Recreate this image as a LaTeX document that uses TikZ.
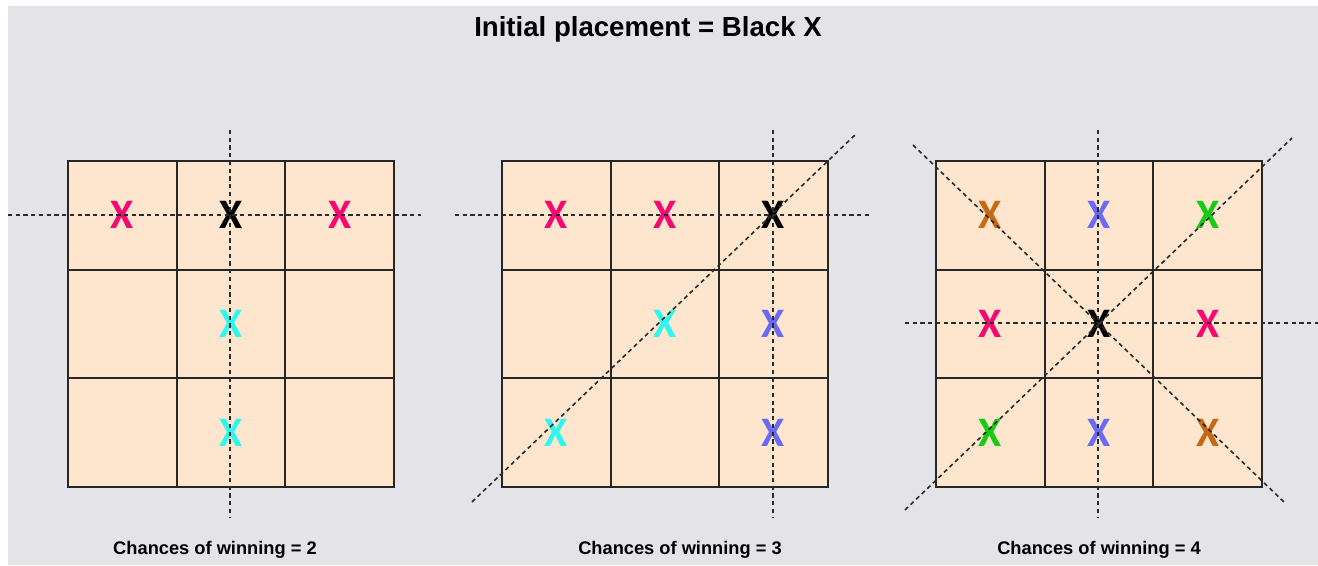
\documentclass[tikz,border=0pt]{standalone}
\usepackage{fontspec}
\newfontfamily\xfont{Carlito}
\newfontfamily\labfont{Liberation Sans}
\definecolor{bgc}{HTML}{E3E3E8}
\definecolor{cellc}{HTML}{FDE5CE}
\definecolor{pinkx}{HTML}{F5086F}
\definecolor{cyanx}{HTML}{2EF8EE}
\definecolor{bluex}{HTML}{6A6AF6}
\definecolor{orangex}{HTML}{C96812}
\definecolor{greenx}{HTML}{14CC14}
\definecolor{dashc}{HTML}{2A2A2A}
\tikzset{
  xmark/.style={inner sep=0pt, font=\xfont\bfseries\fontsize{31.5}{32}\selectfont},
  gridline/.style={draw=black!85, line width=1.4pt},
  guide/.style={draw=dashc, line width=1.2pt, dash pattern=on 3.2pt off 2.6pt},
  caption/.style={inner sep=0pt, font=\labfont\bfseries\fontsize{13.7}{15}\selectfont},
  titletext/.style={inner sep=0pt, font=\labfont\bfseries\fontsize{20.7}{22}\selectfont}
}
\begin{document}
\begin{tikzpicture}[x=0.75pt,y=-0.75pt]
\useasboundingbox (0,0) rectangle (1318,565);
\fill[white] (0,0) rectangle (1318,565);
\fill[bgc] (8,6) rectangle (1318,565);

\node[titletext] (title) at (648,29) {Initial placement = Black X};

% boards
\foreach \gx in {68,502,936}{
  \fill[cellc] (\gx,161) rectangle ++(326,326);
  \draw[gridline] (\gx,161) rectangle ++(326,326);
  \draw[gridline] (\gx+108.7,161) -- ++(0,326);
  \draw[gridline] (\gx+217.3,161) -- ++(0,326);
  \draw[gridline] (\gx,269.7) -- ++(326,0);
  \draw[gridline] (\gx,378.3) -- ++(326,0);
}

% board 1
\node[xmark, text=pinkx] (a11) at (122,215) {X};
\node[xmark, text=black] (a12) at (231,215) {X};
\node[xmark, text=pinkx] (a13) at (340,215) {X};
\node[xmark, text=cyanx] (a22) at (231,324) {X};
\node[xmark, text=cyanx] (a32) at (231,433) {X};

% board 2
\node[xmark, text=pinkx] (b11) at (556,215) {X};
\node[xmark, text=pinkx] (b12) at (665,215) {X};
\node[xmark, text=black] (b13) at (773,215) {X};
\node[xmark, text=cyanx] (b22) at (665,324) {X};
\node[xmark, text=bluex] (b23) at (773,324) {X};
\node[xmark, text=cyanx] (b31) at (556,433) {X};
\node[xmark, text=bluex] (b33) at (773,433) {X};

% board 3
\node[xmark, text=orangex] (c11) at (990,215) {X};
\node[xmark, text=bluex] (c12) at (1099,215) {X};
\node[xmark, text=greenx] (c13) at (1208,215) {X};
\node[xmark, text=pinkx] (c21) at (990,324) {X};
\node[xmark, text=black] (c22) at (1099,324) {X};
\node[xmark, text=pinkx] (c23) at (1208,324) {X};
\node[xmark, text=greenx] (c31) at (990,433) {X};
\node[xmark, text=bluex] (c32) at (1099,433) {X};
\node[xmark, text=orangex] (c33) at (1208,433) {X};

% guide line ends
\coordinate (a1h1) at (8,215);   \coordinate (a1h2) at (421,215);
\coordinate (a1v1) at (230,130); \coordinate (a1v2) at (230,517);
\coordinate (b1h1) at (455,215); \coordinate (b1h2) at (870,215);
\coordinate (b1v1) at (773,130); \coordinate (b1v2) at (773,517);
\coordinate (b1d1) at (472,502); \coordinate (b1d2) at (857,133);
\coordinate (c1h1) at (905,323); \coordinate (c1h2) at (1318,323);
\coordinate (c1v1) at (1098,130); \coordinate (c1v2) at (1098,517);
\coordinate (c1d1) at (913,145); \coordinate (c1d2) at (1285,503);
\coordinate (c1e1) at (905,510); \coordinate (c1e2) at (1292,138);

\draw[guide] (a1h1) -- (a1h2);
\draw[guide] (a1v1) -- (a1v2);
\draw[guide] (b1h1) -- (b1h2);
\draw[guide] (b1v1) -- (b1v2);
\draw[guide] (b1d1) -- (b1d2);
\draw[guide] (c1h1) -- (c1h2);
\draw[guide] (c1v1) -- (c1v2);
\draw[guide] (c1d1) -- (c1d2);
\draw[guide] (c1e1) -- (c1e2);

% captions
\node[caption] (cap1) at (215,550) {Chances of winning = 2};
\node[caption] (cap2) at (680,550) {Chances of winning = 3};
\node[caption] (cap3) at (1099,550) {Chances of winning = 4};
\end{tikzpicture}
\end{document}
